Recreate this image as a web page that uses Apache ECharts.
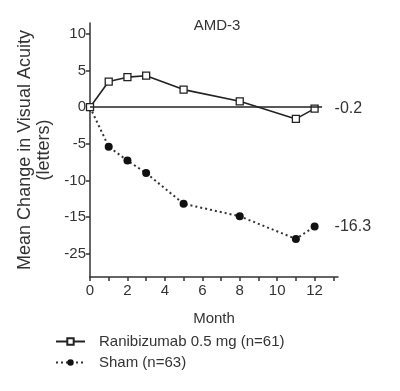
<!DOCTYPE html>
<html>
<head>
<meta charset="utf-8">
<script src="https://cdn.jsdelivr.net/npm/echarts@6/dist/echarts.min.js"></script>
<style>
  html, body { margin: 0; padding: 0; background: #fff; }
  #chart { width: 400px; height: 391px; }
</style>
</head>
<body>
<div id="chart"></div>
<script>
// 数据
var months = [0, 1, 2, 3, 5, 8, 11, 12];
var ranibizumab = [0, 3.5, 4.1, 4.3, 2.4, 0.8, -1.6, -0.2];
var sham = [0, -5.4, -7.3, -9.0, -13.2, -14.9, -18.0, -16.3];
var endValues = ["-0.2", "-16.3"];
var seriesNames = ["Ranibizumab 0.5 mg (n=61)", "Sham (n=63)"];
// the source figure prints "-25" at the -20 tick
var yTicks = [10, 5, 0, -5, -10, -15, -20];
var yTickLabels = ["10", "5", "0", "-5", "-10", "-15", "-25"];
var xTicks = [0, 1, 2, 3, 4, 5, 6, 7, 8, 9, 10, 11, 12, 13];
var xLabels = [0, 2, 4, 6, 8, 10, 12];

var font = "'Liberation Sans Narrow', 'Liberation Sans', Arial, sans-serif";
var ink = "#333";

function pairs(xs, ys) {
  var out = [];
  for (let i = 0; i < xs.length; i++) out.push([xs[i], ys[i]]);
  return out;
}

var myChart = echarts.init(document.getElementById("chart"));
var option = {
  animation: false,
  textStyle: { fontFamily: font, color: ink },
  title: {
    text: "AMD-3",
    left: 212,
    top: 13,
    textAlign: "center",
    textStyle: { fontFamily: font, fontSize: 15, fontWeight: "normal", color: ink },
  },
  grid: { left: 90, right: 62, top: 23, bottom: 114 },
  legend: {
    orient: "vertical",
    left: 50,
    top: 329,
    itemWidth: 29,
    itemHeight: 8,
    itemGap: 6,
    textStyle: { fontFamily: font, fontSize: 15, color: ink, padding: [0, 0, 0, 9] },
    data: seriesNames,
  },
  xAxis: {
    type: "value",
    min: 0,
    max: 13.25,
    name: "Month",
    nameLocation: "middle",
    nameGap: 34,
    nameTextStyle: { fontFamily: font, fontSize: 15, color: ink },
    axisLine: { onZero: false, lineStyle: { color: ink, width: 1.5 } },
    axisTick: { show: true, length: 4, customValues: xTicks, lineStyle: { color: ink, width: 1.5 } },
    axisLabel: { customValues: xLabels, fontSize: 15, color: ink, margin: 6 },
    splitLine: { show: false },
  },
  yAxis: {
    type: "value",
    min: -23.2,
    max: 11.5,
    name: "Mean Change in Visual Acuity\n(letters)",
    nameLocation: "middle",
    nameRotate: 90,
    nameGap: 36,
    nameTextStyle: { fontFamily: font, fontSize: 18, color: ink, lineHeight: 19 },
    axisLine: { onZero: false, lineStyle: { color: ink, width: 1.5 } },
    axisTick: { show: true, length: 4, customValues: yTicks, lineStyle: { color: ink, width: 1.5 } },
    axisLabel: {
      customValues: yTicks,
      fontSize: 15,
      color: ink,
      margin: 4,
      formatter: function (v) {
        var i = yTicks.indexOf(v);
        return i >= 0 ? yTickLabels[i] : "";
      },
    },
    splitLine: { show: false },
  },
  series: [
    {
      name: seriesNames[0],
      type: "line",
      data: pairs(months, ranibizumab),
      symbol: "rect",
      symbolSize: 7,
      showSymbol: true,
      itemStyle: { color: "#fff", borderColor: "#222", borderWidth: 1.3 },
      lineStyle: { color: "#222", width: 1.6 },
      endLabel: {
        show: true,
        formatter: endValues[0],
        distance: 20,
        fontSize: 16,
        color: ink,
        fontFamily: font,
      },
      markLine: {
        silent: true,
        symbol: "none",
        label: { show: false },
        lineStyle: { color: "#222", width: 1.5, type: "solid" },
        data: [[{ coord: [0, 0] }, { coord: [12.4, 0] }]],
      },
      z: 3,
    },
    {
      name: seriesNames[1],
      type: "line",
      data: pairs(months, sham),
      symbol: "circle",
      symbolSize: 8,
      showSymbol: true,
      itemStyle: { color: "#111" },
      lineStyle: { color: "#333", width: 2, type: [2, 3] },
      endLabel: {
        show: true,
        formatter: endValues[1],
        distance: 20,
        fontSize: 16,
        color: ink,
        fontFamily: font,
      },
      z: 2,
    },
  ],
};
myChart.setOption(option);
</script>
</body>
</html>
